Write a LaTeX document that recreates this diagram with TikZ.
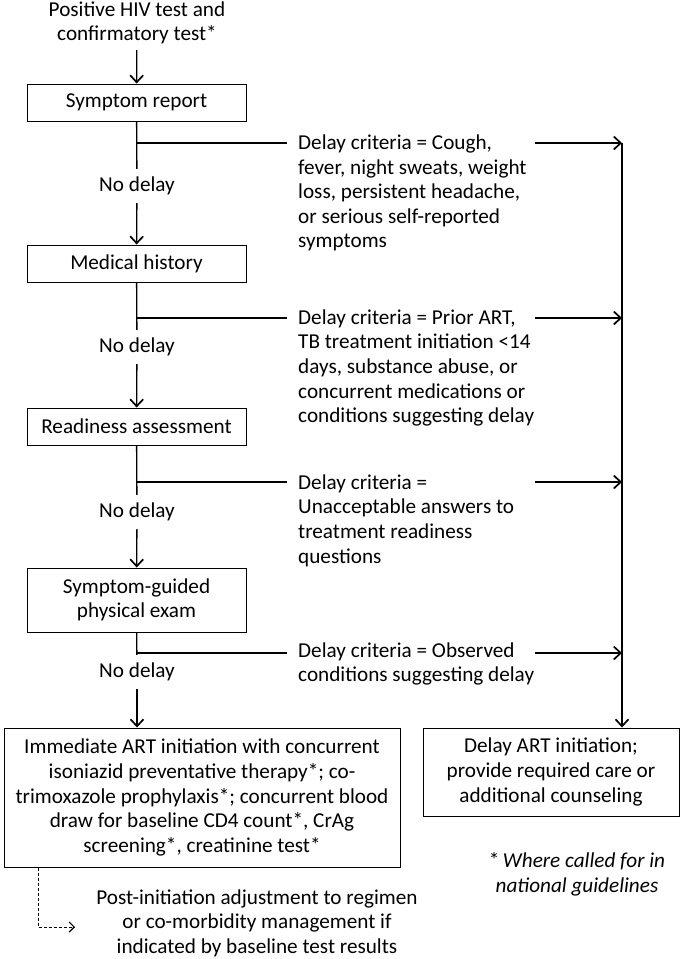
\documentclass[tikz,border=0pt]{standalone}
\usepackage{fontspec}
\setmainfont{Carlito}
\usetikzlibrary{arrows.meta}
\begin{document}
\begin{tikzpicture}[x=1pt,y=-1pt,
  every node/.style={font=\fontsize{21.2}{24.6}\selectfont},
  stepbox/.style={draw=black,line width=1pt,minimum width=219pt,minimum height=37pt,inner sep=2pt,align=center},
  arr/.style={line width=1.3pt,-{Straight Barb[length=7pt,width=13pt,line width=1.7pt]}},
  ln/.style={line width=1.3pt},
  nodelay/.style={inner sep=0pt,minimum height=34pt},
  crit/.style={anchor=west,inner sep=0pt,align=left}]
\useasboundingbox (0,0) rectangle (681,959);
% top text
\node[align=center,inner sep=0pt,minimum height=54pt] (top) at (137,23) {Positive HIV test and\\confirmatory test*};
% step boxes
\node[stepbox] (b1) at (136.5,102.5) {Symptom report};
\node[stepbox] (b2) at (136.5,263.5) {Medical history};
\node[stepbox] (b3) at (136.5,426.5) {Readiness assessment};
\node[stepbox,minimum height=64pt] (b4) at (136.5,600) {Symptom-guided\\physical exam};
\node[draw=black,line width=1pt,minimum width=396pt,minimum height=139pt,align=center,inner sep=2pt] (big) at (202,797.5)
  {Immediate ART initiation with concurrent\\isoniazid preventative therapy*; co-\\trimoxazole prophylaxis*; concurrent blood\\draw for baseline CD4 count*, CrAg\\screening*, creatinine test*};
\node[draw=black,line width=1pt,minimum width=256pt,minimum height=88pt,align=center,inner sep=2pt] (dbox) at (551,772)
  {Delay ART initiation;\\provide required care or\\additional counseling};
% no delay labels
\node[nodelay] (n1) at (137,186) {No delay};
\node[nodelay] (n2) at (137,347) {No delay};
\node[nodelay] (n3) at (137,512) {No delay};
\node[nodelay] (n4) at (137,672) {No delay};
% criteria
\node[crit] (c1) at (298,193) {Delay criteria = Cough,\\fever, night sweats, weight\\loss, persistent headache,\\or serious self-reported\\symptoms};
\node[crit] (c2) at (298,368) {Delay criteria = Prior ART,\\TB treatment initiation <14\\days, substance abuse, or\\concurrent medications or\\conditions suggesting delay};
\node[crit] (c3) at (298,520.5) {Delay criteria =\\Unacceptable answers to\\treatment readiness\\questions};
\node[crit] (c4) at (298,664) {Delay criteria = Observed\\conditions suggesting delay};
% post-initiation
\node[align=center,inner sep=0pt] (post) at (257,923) {Post-initiation adjustment to regimen\\or co-morbidity management if\\indicated by baseline test results};
\node[align=center,inner sep=0pt] (foot) at (577,874) {*\,\textit{Where called for in}\\\textit{national guidelines}};
% coordinates
\coordinate (j1) at (136.5,143); \coordinate (e1) at (287,143);
\coordinate (j2) at (136.5,318); \coordinate (e2) at (287,318);
\coordinate (j3) at (136.5,482); \coordinate (e3) at (287,482);
\coordinate (j4) at (136.5,653); \coordinate (e4) at (287,653);
\coordinate (a1) at (535,143); \coordinate (r1) at (622,143);
\coordinate (a2) at (535,318); \coordinate (r2) at (622,318);
\coordinate (a3) at (535,482); \coordinate (r3) at (622,482);
\coordinate (a4) at (535,653); \coordinate (r4) at (622,653);
\coordinate (dd) at (38,927); \coordinate (de) at (75,927);
% main flow
\draw[arr] (top) -- (b1);
\draw[ln] (b1) -- (n1); \draw[arr] (n1) -- (b2);
\draw[ln] (b2) -- (n2); \draw[arr] (n2) -- (b3);
\draw[ln] (b3) -- (n3); \draw[arr] (n3) -- (b4);
\draw[ln] (b4) -- (n4); \draw[arr] (n4) -- (n4 |- big.north);
% branches
\draw[ln] (j1) -- (e1); \draw[ln] (j2) -- (e2); \draw[ln] (j3) -- (e3); \draw[ln] (j4) -- (e4);
\draw[arr] (a1) -- (r1); \draw[arr] (a2) -- (r2); \draw[arr] (a3) -- (r3); \draw[arr] (a4) -- (r4);
\draw[arr] (r1) -- (r1 |- dbox.north);
% dashed
\draw[line width=0.8pt,dashed,dash pattern=on 3pt off 2pt,-{Straight Barb[length=5pt,width=10pt,line width=1.2pt]}] (big.south -| dd) -- (dd) -- (de);
\end{tikzpicture}
\end{document}
